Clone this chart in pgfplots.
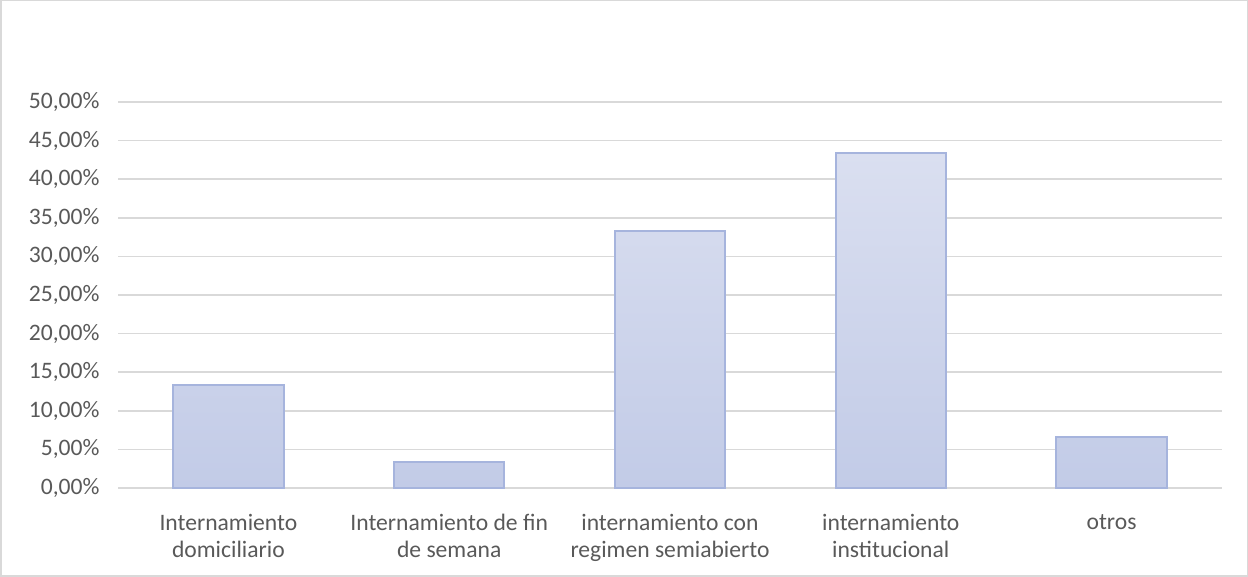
\documentclass[border=0pt]{standalone}
\usepackage{pgfplots}
\pgfplotsset{compat=1.18}
\usepackage{fontspec}
\setmainfont{Carlito}
\definecolor{txt}{HTML}{595959}
\definecolor{gridc}{HTML}{D9D9D9}
\definecolor{bartop}{HTML}{DADFF0}
\definecolor{barbot}{HTML}{C2CBE7}
\definecolor{bardraw}{HTML}{A6B4DD}
\begin{document}
\begin{tikzpicture}[x=1pt,y=1pt]
\useasboundingbox (0,0) rectangle (1248,577);
\draw[gridc,line width=1.5pt] (0.75,0.75) rectangle (1247.25,576.25);
\begin{axis}[
  at={(118pt,89pt)}, anchor=south west,
  scale only axis, width=1104pt, height=386pt,
  xmin=-0.5, xmax=4.5, ymin=0, ymax=0.5,
  axis line style={draw=none},
  xtick=data,
  xticklabels={{Internamiento\\domiciliario},{Internamiento de fin\\de semana},{internamiento con\\regimen semiabierto},{internamiento\\institucional},{otros}},
  ytick={0,0.05,0.1,0.15,0.2,0.25,0.3,0.35,0.4,0.45,0.5},
  yticklabels={{0,00\%},{5,00\%},{10,00\%},{15,00\%},{20,00\%},{25,00\%},{30,00\%},{35,00\%},{40,00\%},{45,00\%},{50,00\%}},
  major tick length=0pt,
  ymajorgrids, grid style={gridc,line width=1.5pt},
  tick label style={font=\fontsize{23.6}{27}\selectfont, text=txt},
  xticklabel style={align=center, yshift=-23pt},
  yticklabel style={xshift=-15pt},
  clip=false,
]
\addplot[ybar, bar width=110.4pt, draw=bardraw, line width=2pt, top color=bartop, bottom color=barbot]
  coordinates {(0,0.1333) (1,0.0333) (2,0.3333) (3,0.4333) (4,0.0667)};
\end{axis}
\end{tikzpicture}
\end{document}
